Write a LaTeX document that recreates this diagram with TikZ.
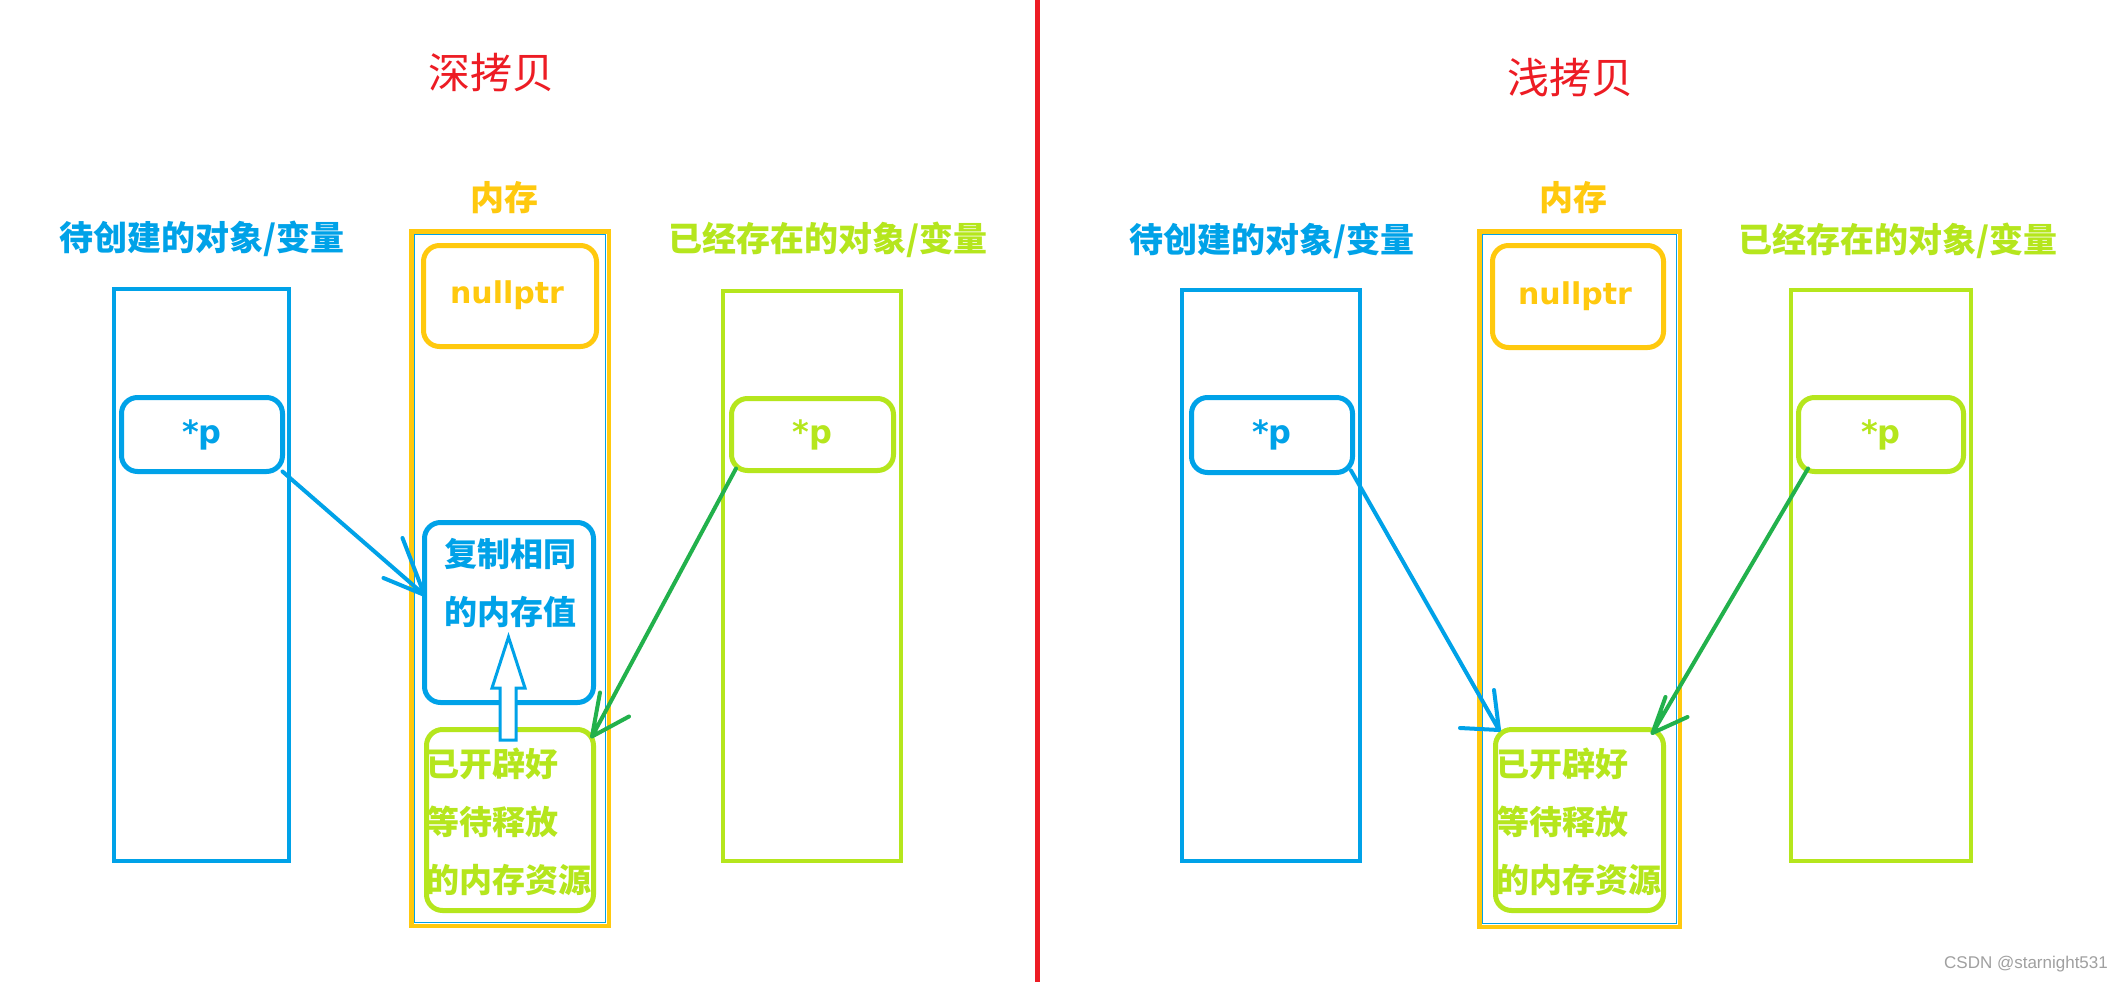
\documentclass[tikz,border=0pt]{standalone}
\usepackage{fontspec}
\newfontfamily\cjk{Noto Sans CJK SC}
\newfontfamily\dvs{DejaVu Sans}
\newfontfamily\lib{Liberation Sans}
\definecolor{pblue}{RGB}{0,162,232}
\definecolor{plime}{RGB}{181,230,29}
\definecolor{pgold}{RGB}{255,201,14}
\definecolor{pdgreen}{RGB}{34,177,76}
\definecolor{pred}{RGB}{237,28,36}
\definecolor{pgray}{RGB}{160,160,160}
\tikzset{
  sz/.style 2 args={minimum width=#1, minimum height=#2},
  column/.style={draw, line width=4.5pt, inner sep=0pt, outer sep=0pt},
  rbox/.style={draw, line width=5pt, rounded corners=16pt, inner sep=0pt, outer sep=0pt},
  titletxt/.style={text=pred, inner sep=0pt, font=\cjk\fontsize{42pt}{46pt}\selectfont},
  labeltxt/.style={inner sep=0pt, font=\cjk\bfseries\fontsize{34pt}{38pt}\selectfont},
  memlabel/.style={text=pgold, inner sep=0pt, font=\cjk\bfseries\fontsize{34pt}{38pt}\selectfont},
  ptxt/.style={font=\dvs\bfseries\fontsize{32pt}{36pt}\selectfont},
  nulltxt/.style={text=pgold, inner sep=0pt, font=\dvs\bfseries\fontsize{30pt}{34pt}\selectfont},
  boxtxt/.style={inner sep=0pt, font=\cjk\bfseries\fontsize{33pt}{58pt}\selectfont},
  thinblue/.style={draw=pblue, line width=1pt},
  conn/.style={line width=4pt, line cap=round, line join=round},
  hollow/.style={draw=pblue, line width=3pt, fill=white, line join=miter},
}
\begin{document}
\begin{tikzpicture}[x=1pt, y=-1pt]
\useasboundingbox[fill=white] (0,0) rectangle (2125,982);

% divider and titles
\coordinate (divtop) at (1037.5,0);
\coordinate (divbot) at (1037.5,982);
\draw[pred, line width=5pt] (divtop) -- (divbot);
\node[titletxt] (deep) at (491,73) {深拷贝};
\node[titletxt] (shallow) at (1570,78) {浅拷贝};

% ================= left panel =================
\node[labeltxt, text=pblue] (lblAL) at (202,239) {待创建的对象/变量};
\node[memlabel] (lblML) at (504,197.5) {内存};
\node[labeltxt, text=plime] (lblBL) at (828,240) {已经存在的对象/变量};

\node[column, draw=pblue, sz={175pt}{572pt}] (colAL) at (201.5,575) {};
\node[column, draw=pgold, sz={197.5pt}{694.5pt}] (colML) at (510,578.5) {};
\draw[thinblue] ([shift={(3pt,-3pt)}]colML.north west) rectangle ([shift={(-3pt,3pt)}]colML.south east);
\node[column, draw=plime, sz={178pt}{570pt}] (colBL) at (812,576) {};

\node[rbox, draw=pblue, sz={161pt}{74pt}, ptxt, text=pblue] (pAL) at (202,434.5) {*p};
\node[rbox, draw=plime, sz={162pt}{72pt}, ptxt, text=plime] (pBL) at (812.5,434.5) {*p};
\node[rbox, draw=pgold, sz={173pt}{101pt}] (nullL) at (510,296) {};
\node[nulltxt] (nulltL) at (507,295) {nullptr};

\node[rbox, draw=pblue, sz={169pt}{180pt}] (copyL) at (509,612.5) {};
\node[boxtxt, text=pblue, align=center] (copytL) at (510,582.5) {复制相同\\的内存值};

\node[rbox, draw=plime, sz={167pt}{181pt}] (memL) at (510,820) {};
\node[boxtxt, text=plime, align=left, anchor=west] (memtL) at (426.5,822) {已开辟好\\等待释放\\的内存资源};

% connectors left
\coordinate (tipBL) at ([yshift=17.5pt]copyL.west);
\draw[pblue, conn] (pAL.south east) -- (tipBL) -- ++(-22,-57) (tipBL) -- ++(-41,-17);
\coordinate (startGL) at ([xshift=4.5pt,yshift=2pt]pBL.south west);
\coordinate (tipGL) at ([shift={(-1.5pt,-7pt)}]memL.north east);
\draw[pdgreen, conn] (startGL) -- (tipGL) -- ++(8,-44) (tipGL) -- ++(37,-20);

% hollow upward arrow
\draw[hollow] (500,740) -- (500,688) -- (492,688) -- (508.5,637) -- (525,688) -- (516,688) -- (516,740) -- cycle;

% ================= right panel =================
\node[labeltxt, text=pblue] (lblAR) at (1272,241) {待创建的对象/变量};
\node[memlabel] (lblMR) at (1573,198) {内存};
\node[labeltxt, text=plime] (lblBR) at (1898,241) {已经存在的对象/变量};

\node[column, draw=pblue, sz={178pt}{571pt}] (colAR) at (1271,575.5) {};
\node[column, draw=pgold, sz={200.5pt}{695.5pt}] (colMR) at (1579.5,579) {};
\draw[thinblue] ([shift={(3pt,-3pt)}]colMR.north west) rectangle ([shift={(-3pt,3pt)}]colMR.south east);
\node[column, draw=plime, sz={180pt}{571pt}] (colBR) at (1881,575.5) {};

\node[rbox, draw=pblue, sz={161pt}{75pt}, ptxt, text=pblue] (pAR) at (1272,435) {*p};
\node[rbox, draw=plime, sz={165pt}{74pt}, ptxt, text=plime] (pBR) at (1881,434.5) {*p};
\node[rbox, draw=pgold, sz={171pt}{102pt}] (nullR) at (1578,296.5) {};
\node[nulltxt] (nulltR) at (1575,296) {nullptr};

\node[rbox, draw=plime, sz={168pt}{181pt}] (memR) at (1579.5,820) {};
\node[boxtxt, text=plime, align=left, anchor=west] (memtR) at (1496.5,822) {已开辟好\\等待释放\\的内存资源};

% connectors right
\coordinate (tipBR) at ([shift={(3.5pt,-0.5pt)}]memR.north west);
\draw[pblue, conn] ([xshift=-1.5pt,yshift=2pt]pAR.south east) -- (tipBR) -- ++(-5,-40) (tipBR) -- ++(-39,-2);
\coordinate (startGR) at ([xshift=9.5pt,yshift=3pt]pBR.south west);
\coordinate (tipGR) at ([shift={(-11pt,-3.5pt)}]memR.north east);
\draw[pdgreen, conn] (startGR) -- (tipGR) -- ++(13,-36) (tipGR) -- ++(35,-16);

% watermark
\node[text=pgray, inner sep=0pt, font=\lib\fontsize{17pt}{20pt}\selectfont] (wm) at (2026,964) {CSDN @starnight531};
\end{tikzpicture}
\end{document}
